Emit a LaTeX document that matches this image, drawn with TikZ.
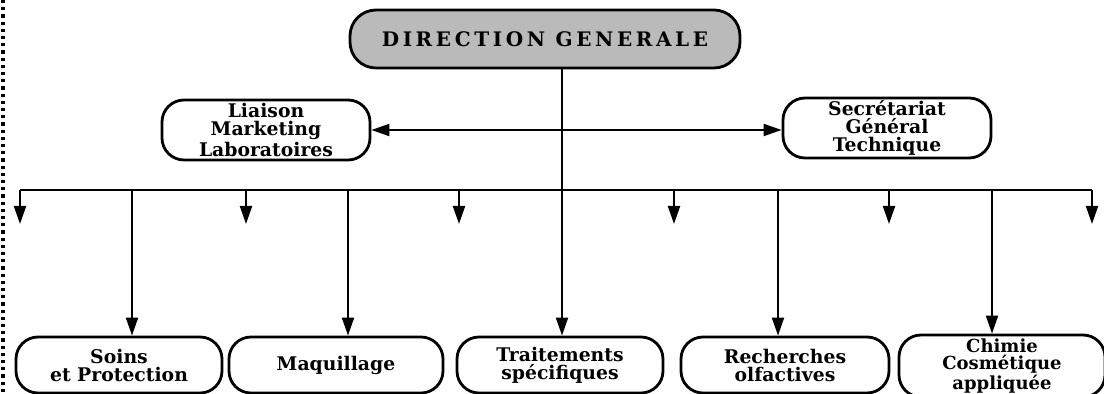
\documentclass[tikz,border=0pt]{standalone}
\usepackage{fontspec}
\setmainfont{DejaVu Serif}
\newfontfamily\dgfont[LetterSpace=18]{DejaVu Serif}
\usepackage{tikz}
\usetikzlibrary{arrows.meta,positioning}

\tikzset{
  unit/.style={draw, line width=1.4pt, rounded corners=11pt, align=center,
    inner sep=0pt, font=\fontsize{9.4}{9}\selectfont\bfseries},
  staff/.style={unit, minimum width=104pt, minimum height=30pt},
  dept/.style={unit, minimum width=103pt, minimum height=28pt},
  link/.style={line width=1pt, -{Triangle[length=9pt,width=6pt]}},
}

\begin{document}
\begin{tikzpicture}[x=0.5pt, y=-0.5pt]
  \clip (0,0) rectangle (1104,394);
  \draw[dotted, line width=1.6pt] (3,0) -- (3,394);

  \node[unit, fill=black!27, minimum width=195pt, minimum height=29pt, rounded corners=13pt,
        font=\fontsize{10}{10}\selectfont\bfseries\dgfont] (dg) at (545,39) {DIRECTION GENERALE};
  \node[staff] (lml) at (266,130) {Liaison\\Marketing\\Laboratoires};
  \node[staff] (sgt) at (887,128) {Secrétariat\\Général\\Technique};

  \node[dept] (soins) at (119,365)  {Soins\\et Protection};
  \node[dept, minimum width=107pt] (maq) at (336,365) {Maquillage};
  \node[dept] (trait) at (560,365)  {Traitements\\spécifiques};
  \node[dept, minimum width=104pt] (olf) at (785,365) {Recherches\\olfactives};
  \node[dept, minimum height=31pt, font=\fontsize{9}{8.4}\selectfont\bfseries] (chim) at (1002,366)
    {Chimie\\Cosmétique\\appliquée};

  % bus
  \coordinate (t) at (562,190);
  \coordinate (b0) at (20,190);
  \coordinate (b1) at (1092,190);
  \coordinate (bs) at (132,190);
  \coordinate (bm) at (348,190);
  \coordinate (bo) at (778,190);
  \coordinate (bc) at (992,190);
  \draw[line width=1.4pt] (b0) -- (b1);
  \draw[link, {Triangle[length=9pt,width=6pt]}-{Triangle[length=9pt,width=6pt]}]
    (lml.east) -- (lml.east -| sgt.west);
  \draw[link] (dg.south -| t) -- (t |- trait.north);

  % short drops
  \foreach \x in {20,246,459,674,889,1092}
    \draw[link] (\x,190) -- (\x,224);
  % long drops
  \draw[link] (bs) -- (bs |- soins.north);
  \draw[link] (bm) -- (bm |- maq.north);
  \draw[link] (bo) -- (bo |- olf.north);
  \draw[link] (bc) -- (bc |- chim.north);
\end{tikzpicture}
\end{document}
